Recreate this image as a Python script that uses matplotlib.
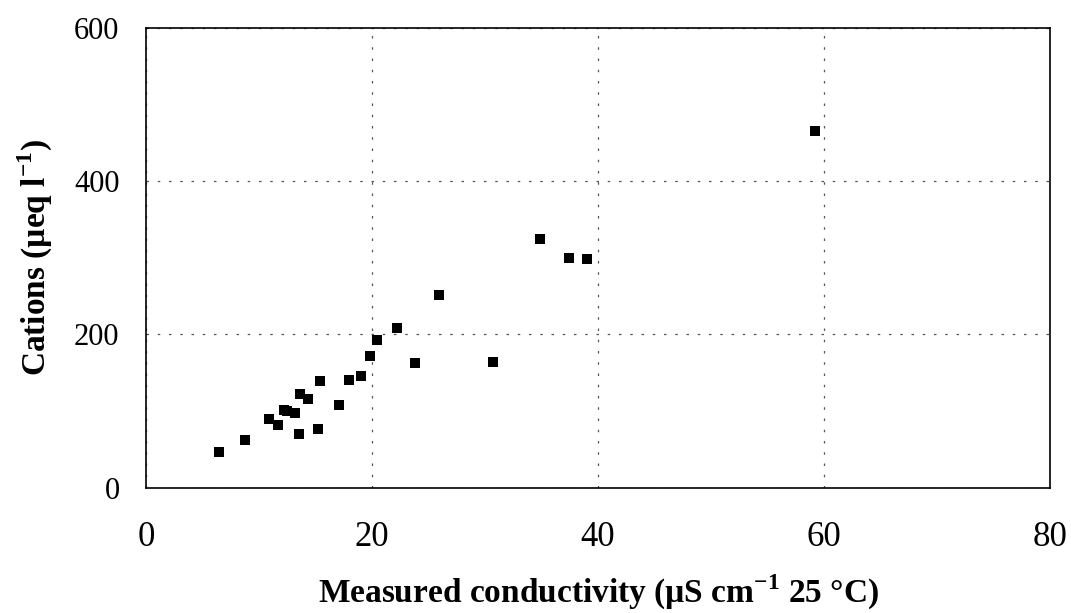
import matplotlib
matplotlib.use("Agg")
import matplotlib.pyplot as plt

# Measured conductivity (uS/cm at 25 C) vs cations (ueq/l)
conductivity = [6.5, 8.8, 10.9, 11.7, 12.2, 12.5, 13.2, 13.5, 13.6, 14.3,
                15.2, 15.4, 17.1, 18.0, 19.0, 19.8, 20.4, 22.2, 23.8, 25.9,
                30.7, 34.9, 37.4, 39.0, 59.2]
cations = [47, 62, 89, 82, 101, 100, 97, 70, 122, 115,
           76, 139, 108, 140, 146, 172, 193, 208, 163, 251,
           164, 324, 300, 298, 466]

x_ticks = [0, 20, 40, 60, 80]
y_ticks = [0, 200, 400, 600]

plt.rcParams['font.family'] = ['Liberation Serif', 'DejaVu Serif']
plt.rcParams['mathtext.fontset'] = 'custom'
plt.rcParams['mathtext.rm'] = 'Liberation Serif'
plt.rcParams['mathtext.bf'] = 'Liberation Serif:bold'

fig = plt.figure(figsize=(10.71, 6.13), dpi=100)
ax = fig.add_axes([0.1363, 0.2047, 0.8441, 0.7496])

ax.scatter(conductivity, cations, marker='s', s=52, color='black', zorder=3, linewidths=0)

ax.set_xlim(0, 80)
ax.set_ylim(0, 600)
ax.set_xticks(x_ticks)
ax.set_yticks(y_ticks)
ax.tick_params(axis='x', length=0, pad=24, labelsize=25)
ax.tick_params(axis='y', length=0, pad=19, labelsize=22)

ax.grid(True, color='#555555', linestyle=(0, (2, 7)), linewidth=0.9)
ax.set_axisbelow(True)
for sp in ax.spines.values():
    sp.set_linewidth(1.2)
    sp.set_color('black')

ax.set_xlabel(r'Measured conductivity (µS cm$^{\mathbf{-1}}$ 25 °C)',
              fontsize=24, fontweight='bold', labelpad=14)
ax.set_ylabel(r'Cations (µeq l$^{\mathbf{-1}}$)',
              fontsize=24, fontweight='bold', labelpad=14)

fig.savefig('out.png', dpi=100, facecolor='white')
